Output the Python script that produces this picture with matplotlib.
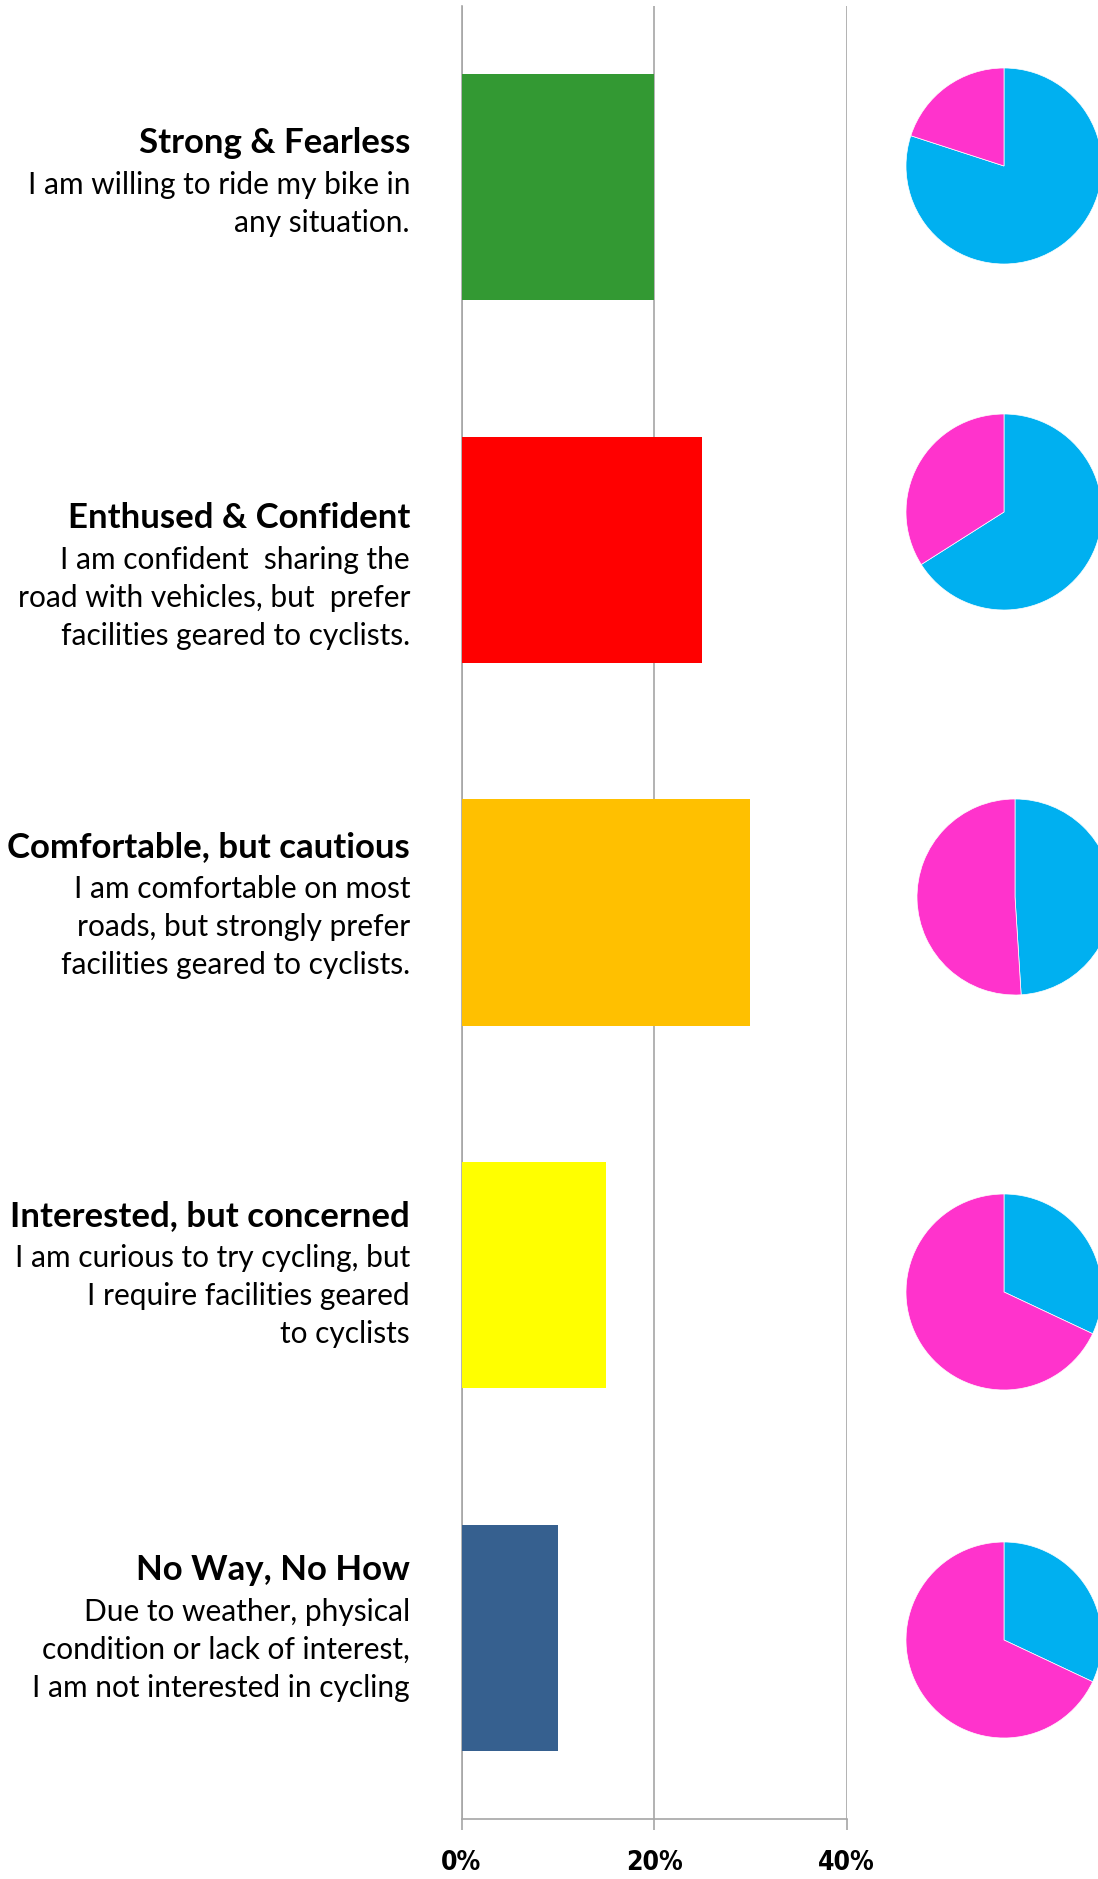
import matplotlib
matplotlib.use("Agg")
import matplotlib.pyplot as plt
import numpy as np

# --- data ---
categories = ["Strong & Fearless", "Enthused & Confident", "Comfortable, but cautious",
              "Interested, but concerned", "No Way, No How"]
descriptions = [
    "I am willing to ride my bike in\nany situation.",
    "I am confident  sharing the\nroad with vehicles, but  prefer\nfacilities geared to cyclists.",
    "I am comfortable on most\nroads, but strongly prefer\nfacilities geared to cyclists.",
    "I am curious to try cycling, but\nI require facilities geared\nto cyclists",
    "Due to weather, physical\ncondition or lack of interest,\nI am not interested in cycling",
]
shares = [20, 25, 30, 15, 10]            # percent of population
blue_share = [80, 66, 49, 32, 32]        # pie split (blue / pink)
pink_share = [20, 34, 51, 68, 68]
xticks = [0, 20, 40]
xtick_labels = ["0%", "20%", "40%"]

bar_colors = ["#339933", "#FF0000", "#FFC000", "#FFFF00", "#36608F"]
pie_colors = ["#00B0F0", "#FF33CC"]

W, H = 1098, 1879
fig = plt.figure(figsize=(W / 100, H / 100), dpi=100)
fig.patch.set_facecolor("white")

# main bar axes
ax = fig.add_axes([461.5 / W, 1 - 1819 / H, (846.5 - 461.5) / W, (1819 - 6) / H])
y = np.arange(len(categories))
ax.barh(y, shares, height=0.624, color=bar_colors, zorder=3)
ax.set_ylim(len(categories) - 0.5, -0.5)
ax.set_xlim(0, 40)
ax.set_yticks([])
ax.set_xticks(xticks)
ax.set_xticklabels(xtick_labels, fontsize=19, fontweight="bold",
                   family="DejaVu Sans", fontstretch="condensed")
ax.tick_params(axis="x", length=8, width=1.2, color="#A6A6A6", pad=14)
ax.grid(axis="x", color="#A6A6A6", linewidth=1.2, zorder=0)
for s in ["top", "right"]:
    ax.spines[s].set_visible(False)
for s in ["left", "bottom"]:
    ax.spines[s].set_color("#A6A6A6")
    ax.spines[s].set_linewidth(1.2)

# category labels (pixel y of the bold title line)
title_y = [143, 518, 847, 1216, 1570]
text_x = 410 / W
for i, (cat, desc) in enumerate(zip(categories, descriptions)):
    ty = 1 - title_y[i] / H
    fig.text(text_x, ty, cat, ha="right", va="center", fontsize=25,
             fontweight="bold", family="Lato")
    fig.text(text_x, ty - 28 / H, desc, ha="right", va="top", fontsize=21.5,
             family="Lato", linespacing=1.43, multialignment="right")

# pies
pie_cx = [1004, 1004, 1015, 1004, 1004]
pie_cy = [166, 512, 897, 1292, 1640]
r = 98
for i in range(len(categories)):
    pax = fig.add_axes([(pie_cx[i] - r) / W, 1 - (pie_cy[i] + r) / H, 2 * r / W, 2 * r / H])
    pax.pie([blue_share[i], pink_share[i]], colors=pie_colors, startangle=90,
            counterclock=False, radius=1,
            wedgeprops=dict(edgecolor="white", linewidth=0.5))
    pax.set_xlim(-1, 1)
    pax.set_ylim(-1, 1)
    pax.axis("off")

fig.savefig("out.png", dpi=100, facecolor="white")
